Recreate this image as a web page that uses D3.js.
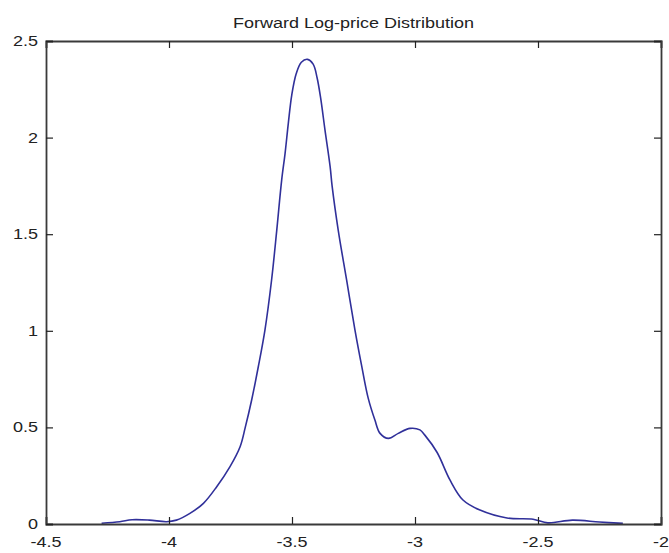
<!DOCTYPE html>
<html>
<head>
<meta charset="utf-8">
<script src="https://cdn.jsdelivr.net/npm/d3@7"></script>
<style>
  body { margin: 0; background: #fff; }
  text { font-family: "Liberation Sans", Arial, sans-serif; fill: #222; }
</style>
</head>
<body>
<div id="chart"></div>
<script>
// density curve
var logPrice = [-4.274, -4.2, -4.15, -4.08, -4.01, -3.97, -3.915, -3.86, -3.806, -3.752,
                -3.711, -3.69, -3.664, -3.637, -3.61, -3.583, -3.562, -3.542, -3.528, -3.515,
                -3.501, -3.483, -3.462, -3.437, -3.414, -3.398, -3.383, -3.366, -3.345, -3.337,
                -3.312, -3.278, -3.244, -3.217, -3.19, -3.163, -3.142, -3.108, -3.068, -3.02,
                -2.98, -2.96, -2.91, -2.858, -2.805, -2.736, -2.626, -2.52, -2.46, -2.36,
                -2.25, -2.155];
var density = [0.004, 0.012, 0.022, 0.02, 0.012, 0.02, 0.055, 0.107, 0.193, 0.297,
               0.40, 0.50, 0.642, 0.814, 1.004, 1.263, 1.52, 1.78, 1.92, 2.074,
               2.22, 2.33, 2.39, 2.405, 2.38, 2.31, 2.2, 2.04, 1.85, 1.75,
               1.52, 1.263, 1.004, 0.82, 0.65, 0.538, 0.469, 0.443, 0.469, 0.495,
               0.487, 0.46, 0.37, 0.228, 0.124, 0.072, 0.031, 0.025, 0.006, 0.02,
               0.01, 0.003];
var xTicks = [-4.5, -4, -3.5, -3, -2.5, -2];
var yTicks = [0, 0.5, 1, 1.5, 2, 2.5];
var title = "Forward Log-price Distribution";

var W = 669, H = 553,
    pLeft = 46, pRight = 661, pTop = 41, pBottom = 524,
    stretch = 1.2; // the picture is a bit wider than tall, text too

var svg = d3.select("#chart").append("svg").attr("width", W).attr("height", H);

var x = d3.scaleLinear().domain([-4.5, -2]).range([pLeft, pRight]);
var y = d3.scaleLinear().domain([0, 2.5]).range([pBottom, pTop]);

var pts = logPrice.map(function(d, i) { return [d, density[i]]; });

var line = d3.line()
    .x(function(d) { return x(d[0]); })
    .y(function(d) { return y(d[1]); })
    .curve(d3.curveCatmullRom.alpha(0.5));

svg.append("path")
    .datum(pts)
    .attr("d", line)
    .attr("fill", "none")
    .attr("stroke", "#30309a")
    .attr("stroke-width", 1.6);

// box with inward ticks on all four sides
var tickLen = 7;
var axisCol = "#3a3a3a";

svg.append("g").attr("transform", "translate(0," + pBottom + ")")
    .call(d3.axisTop(x).tickValues(xTicks).tickSize(tickLen).tickFormat(""));
svg.append("g").attr("transform", "translate(0," + pTop + ")")
    .call(d3.axisBottom(x).tickValues(xTicks).tickSize(tickLen).tickFormat(""));
svg.append("g").attr("transform", "translate(" + pLeft + ",0)")
    .call(d3.axisRight(y).tickValues(yTicks).tickSize(tickLen).tickFormat(""));
svg.append("g").attr("transform", "translate(" + pRight + ",0)")
    .call(d3.axisLeft(y).tickValues(yTicks).tickSize(tickLen).tickFormat(""));

svg.selectAll(".domain").attr("stroke", axisCol).attr("stroke-width", 1.8);
svg.selectAll(".tick line").attr("stroke", "#222").attr("stroke-width", 1.2);

svg.selectAll(".xlab")
    .data(xTicks)
    .enter()
    .append("text")
    .attr("class", "xlab")
    .attr("text-anchor", "middle")
    .attr("font-size", 15)
    .attr("transform", function(d) { return "translate(" + x(d) + "," + 547 + ") scale(" + stretch + ",1)"; })
    .text(function(d) { return d; });

svg.selectAll(".ylab")
    .data(yTicks)
    .enter()
    .append("text")
    .attr("class", "ylab")
    .attr("text-anchor", "end")
    .attr("font-size", 15)
    .attr("transform", function(d) { return "translate(" + 38 + "," + (y(d) + 5) + ") scale(" + stretch + ",1)"; })
    .text(function(d) { return d; });

svg.append("text")
    .attr("text-anchor", "middle")
    .attr("font-size", 15)
    .attr("transform", "translate(" + ((pLeft + pRight) / 2) + ",28) scale(" + stretch + ",1)")
    .text(title);
</script>
</body>
</html>
